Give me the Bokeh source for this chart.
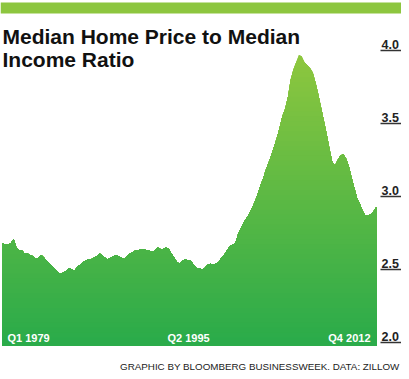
import numpy as np
from bokeh.plotting import figure
from bokeh.models import Range1d, Label, BoxAnnotation
from bokeh.core.properties import value
from bokeh.embed import file_html
from bokeh.resources import INLINE

# ---------------- data ----------------
years = list(range(1979, 2013))
quarters = [f"Q{q} {y}" for y in years for q in (1, 2, 3, 4)]
ratio = [
    2.68, 2.67, 2.67, 2.68, 2.71, 2.65, 2.63, 2.63, 2.61, 2.61,
    2.60, 2.59, 2.57, 2.58, 2.60, 2.58, 2.56, 2.54, 2.52, 2.50,
    2.48, 2.47, 2.48, 2.49, 2.51, 2.50, 2.49, 2.52, 2.53, 2.55,
    2.56, 2.57, 2.57, 2.58, 2.59, 2.61, 2.60, 2.58, 2.57, 2.58,
    2.59, 2.60, 2.59, 2.58, 2.57, 2.59, 2.61, 2.62, 2.63, 2.63,
    2.64, 2.64, 2.63, 2.63, 2.62, 2.63, 2.65, 2.64, 2.64, 2.65,
    2.64, 2.61, 2.58, 2.55, 2.54, 2.56, 2.57, 2.56, 2.56, 2.53,
    2.51, 2.51, 2.50, 2.51, 2.53, 2.54, 2.53, 2.54, 2.55, 2.58,
    2.60, 2.63, 2.66, 2.67, 2.68, 2.74, 2.78, 2.82, 2.85, 2.88,
    2.92, 2.96, 3.01, 3.07, 3.12, 3.18, 3.23, 3.28, 3.34, 3.40,
    3.47, 3.55, 3.60, 3.68, 3.80, 3.87, 3.92, 3.97, 3.96, 3.92,
    3.90, 3.88, 3.85, 3.78, 3.70, 3.61, 3.52, 3.43, 3.33, 3.24,
    3.21, 3.25, 3.28, 3.29, 3.26, 3.21, 3.13, 3.06, 2.99, 2.95,
    2.90, 2.87, 2.87, 2.88, 2.90, 2.93,
]
x_labels = ["Q1 1979", "Q2 1995", "Q4 2012"]
y_ticks = [2.0, 2.5, 3.0, 3.5, 4.0]
y_tick_labels = ["2.0", "2.5", "3.0", "3.5", "4.0"]
title_lines = ["Median Home Price to Median", "Income Ratio"]
source_text = "GRAPHIC BY BLOOMBERG BUSINESSWEEK. DATA: ZILLOW"

# ---------------- layout ----------------
W, H = 401, 371
DATA_LEFT_PX = 2             # pixel where first quarter sits
DATA_RIGHT_PX = 376          # pixel where last quarter sits
TOP_TICK_PX = 50             # pixel (from top) of the 4.0 line
BOT_TICK_PX = 342            # pixel (from top) of the 2.0 line

n = len(ratio)
x = np.arange(n)
vals = np.array(ratio)
ppu_x = (DATA_RIGHT_PX - DATA_LEFT_PX) / (n - 1)
xmin = -DATA_LEFT_PX / ppu_x
xmax = xmin + W / ppu_x
ppu_y = (BOT_TICK_PX - TOP_TICK_PX) / (y_ticks[-1] - y_ticks[0])
ymax = y_ticks[-1] + TOP_TICK_PX / ppu_y
ymin = y_ticks[0] - (H - BOT_TICK_PX) / ppu_y
base = y_ticks[0] - 3 / ppu_y

p = figure(width=W, height=H, output_backend="svg", toolbar_location=None,
           x_range=Range1d(xmin, xmax), y_range=Range1d(ymin, ymax),
           min_border=0, min_border_left=0, min_border_right=0,
           min_border_top=0, min_border_bottom=0)
p.axis.visible = False
p.xgrid.visible = False
p.ygrid.visible = False
p.outline_line_color = None
p.background_fill_color = "white"
p.border_fill_color = "white"

# ---------------- gradient area ----------------
top_rgb = np.array([143, 199, 62])
bot_rgb = np.array([42, 171, 74])
n_bands = 60
edges = np.linspace(y_ticks[0], vals.max() + 0.05, n_bands + 1)
for k in range(n_bands, 0, -1):
    hi = edges[k]
    mid = 0.5 * (edges[k] + edges[k - 1])
    t = np.clip((mid - y_ticks[0]) / (y_ticks[-1] - y_ticks[0]), 0, 1)
    c = bot_rgb + t * (top_rgb - bot_rgb)
    col = "#%02x%02x%02x" % tuple(int(round(v)) for v in c)
    p.varea(x=x, y1=np.full_like(vals, base), y2=np.minimum(vals, hi),
            fill_color=col, fill_alpha=1.0)

# ---------------- y tick labels with underlines ----------------
last = n - 1
lab_x = last + 5 / ppu_x
seg_x0 = last + 4 / ppu_x
seg_x1 = last + 25 / ppu_x
p.segment(x0=[seg_x0] * len(y_ticks), y0=y_ticks,
          x1=[seg_x1] * len(y_ticks), y1=y_ticks,
          line_color="#333333", line_width=1.5)
for yt, yl in zip(y_ticks, y_tick_labels):
    p.add_layout(Label(x=lab_x, y=yt, text=yl, y_offset=2,
                       text_font="Liberation Sans", text_font_style="bold",
                       text_font_size="12.5px", text_color="#222222",
                       text_align="left", text_baseline="bottom"))

# ---------------- x labels inside the area ----------------
x_idx = [quarters.index(s) for s in x_labels]
aligns = ["left", "center", "right"]
offs = [5, 6, -6]
for xi, lab, al, off in zip(x_idx, x_labels, aligns, offs):
    p.add_layout(Label(x=xi, y=y_ticks[0], text=lab, x_offset=off, y_offset=5,
                       text_font="Liberation Sans", text_font_style="bold",
                       text_font_size="11px", text_color="white",
                       text_align=al, text_baseline="alphabetic"))

# ---------------- top bar, title, source ----------------
p.add_layout(BoxAnnotation(left=0, right=W, bottom=H - 13, top=H - 2,
                           left_units="screen", right_units="screen",
                           bottom_units="screen", top_units="screen",
                           fill_color="#8dc63f", fill_alpha=1.0,
                           line_color=None))
for i, line in enumerate(title_lines):
    p.add_layout(Label(x=2, y=H - 36 - 23 * i, x_units="screen", y_units="screen",
                       text=line, text_font="Liberation Sans",
                       text_font_style="bold", text_font_size="21px",
                       text_color="#111111", text_baseline="alphabetic"))
p.add_layout(Label(x=399, y=H - 366, x_units="screen", y_units="screen",
                   text=source_text, text_font="Liberation Sans",
                   text_font_size="9.8px", text_color="#222222",
                   text_align="right", text_baseline="alphabetic"))

open("out.html", "w").write(file_html(p, INLINE))
